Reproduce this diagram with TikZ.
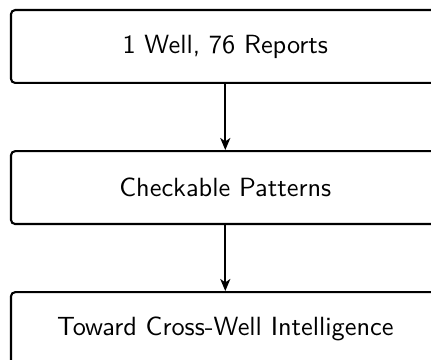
\documentclass[tikz,border=0pt]{standalone}
\usepackage{fontspec}
\usetikzlibrary{arrows.meta}
\renewcommand{\familydefault}{\sfdefault}
\begin{document}
\begin{tikzpicture}[x=0.38pt, y=-0.38pt,
  stage/.style={draw, thick, rounded corners=1.6pt, fill=white,
    minimum width=162.9pt, minimum height=27.7pt, inner sep=0pt,
    font=\sffamily},
  flow/.style={-{Stealth[length=4.6pt, width=3.8pt, inset=1.3pt]}, thick}]
  \useasboundingbox (0,0) rectangle (431,360);
  \node[stage] (wells)    at (225.3,46.5)  {1 Well, 76 Reports};
  \node[stage] (patterns) at (225.3,187.6) {Checkable Patterns};
  \node[stage] (cross)    at (225.3,328.6) {Toward Cross-Well Intelligence};
  \draw[flow] (wells) -- (patterns);
  \draw[flow] (patterns) -- (cross);
\end{tikzpicture}
\end{document}
